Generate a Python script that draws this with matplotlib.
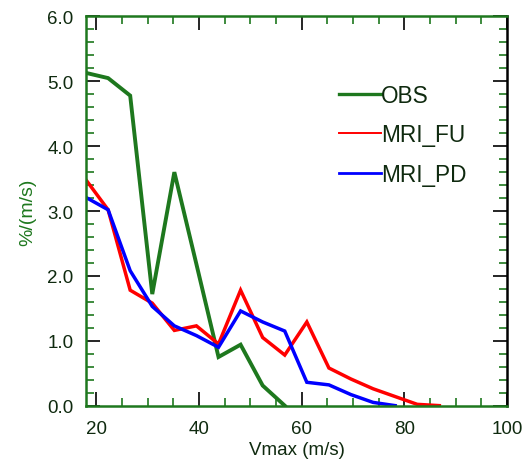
import matplotlib
matplotlib.use("Agg")
import matplotlib.pyplot as plt
from matplotlib.lines import Line2D
from matplotlib.ticker import MultipleLocator

plt.rcParams['font.family'] = ['Liberation Sans', 'DejaVu Sans']

vmax = [18.0, 22.3, 26.6, 30.9, 35.2, 39.5, 43.8, 48.1, 52.4, 56.7,
        61.0, 65.3, 69.6, 73.9, 78.2, 82.5, 86.8]
obs = [5.13, 5.05, 4.78, 1.72, 3.60, 2.18, 0.75, 0.94, 0.31, 0.0]
mri_fu = [3.48, 3.02, 1.78, 1.58, 1.16, 1.23, 0.95, 1.78, 1.05, 0.78,
          1.29, 0.58, 0.41, 0.26, 0.14, 0.02, 0.0]
mri_pd = [3.21, 3.02, 2.08, 1.53, 1.23, 1.08, 0.90, 1.46, 1.29, 1.15,
          0.36, 0.32, 0.17, 0.05, 0.0]
labels = ["OBS", "MRI_FU", "MRI_PD"]

GREEN = '#1e781e'
TXT = '#0f2a0f'

fig = plt.figure(figsize=(5.31, 4.60), dpi=100)
ax = fig.add_axes([0.162, 0.116, 0.793, 0.846])

ax.plot(vmax[:len(obs)], obs, color=GREEN, lw=2.8, solid_joinstyle='miter')
ax.plot(vmax[:len(mri_fu)], mri_fu, color='#ff0000', lw=2.5, solid_joinstyle='miter')
ax.plot(vmax[:len(mri_pd)], mri_pd, color='#0000ff', lw=2.5, solid_joinstyle='miter')

ax.set_xlim(18, 100)
ax.set_ylim(0, 6)
ax.xaxis.set_minor_locator(MultipleLocator(5))
ax.yaxis.set_minor_locator(MultipleLocator(0.2))
ax.set_xticks([20, 40, 60, 80, 100])
ax.set_xticklabels(['20', '40', '60', '80', '100'])
ax.set_yticks([0, 1, 2, 3, 4, 5, 6])
ax.set_yticklabels(['0.0', '1.0', '2.0', '3.0', '4.0', '5.0', '6.0'])

ax.tick_params(which='both', direction='in', top=True, right=True)
ax.tick_params(which='major', length=10, width=1.2, color='black',
               labelsize=13.5, labelcolor=TXT)
ax.tick_params(axis='y', which='major', pad=9)
ax.tick_params(axis='x', which='major', pad=10)
ax.tick_params(which='minor', length=6, width=1.2, color=GREEN)

for s in ['left', 'top', 'bottom']:
    ax.spines[s].set_color(GREEN)
    ax.spines[s].set_linewidth(1.8)
ax.spines['right'].set_color('black')
ax.spines['right'].set_linewidth(1.8)

ax.set_xlabel('Vmax (m/s)', fontsize=13.5, color=TXT, labelpad=3)
ax.set_ylabel('%/(m/s)', fontsize=14, color=GREEN, labelpad=8)

handles = [Line2D([], [], color=GREEN, lw=2.4),
           Line2D([], [], color='#ff0000', lw=1.4),
           Line2D([], [], color='#0000ff', lw=2.0)]
leg = ax.legend(handles, labels, loc='upper left', bbox_to_anchor=(0.58, 0.85),
                frameon=False, fontsize=16.3, handlelength=1.85, handletextpad=0.0,
                labelspacing=0.72, borderaxespad=0)
for t in leg.get_texts():
    t.set_color(TXT)

fig.savefig('out.png', dpi=100)
